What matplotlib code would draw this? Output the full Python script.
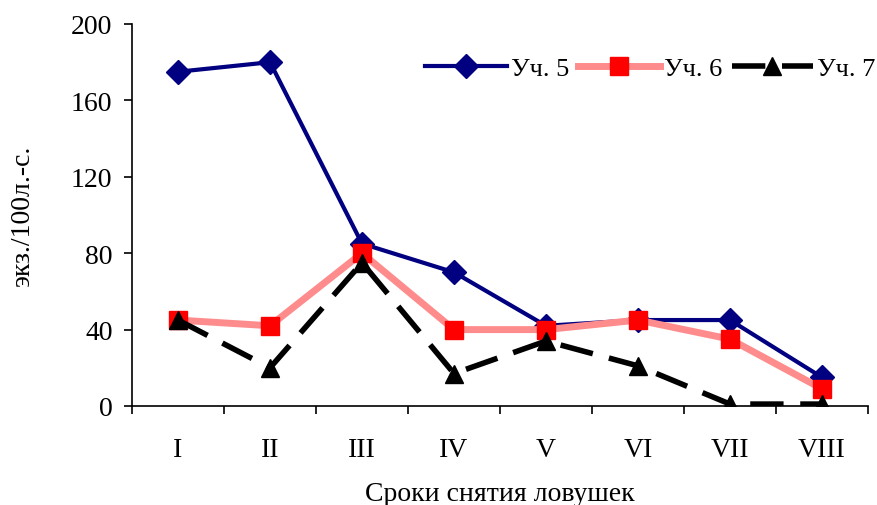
import matplotlib
matplotlib.use("Agg")
import matplotlib.pyplot as plt
import numpy as np

categories = ["I", "II", "III", "IV", "V", "VI", "VII", "VIII"]
uch5 = [175, 180, 85, 70, 42, 45, 45, 15]
uch6 = [45, 42, 80, 40, 40, 45, 35, 9]
uch7 = [45, 20, 75, 17, 34, 21, 1, 1]
yticks = [0, 40, 80, 120, 160, 200]

plt.rcParams["font.family"] = ["Liberation Serif", "DejaVu Serif"]

fig = plt.figure(figsize=(8.77, 5.06), dpi=100)
ax = fig.add_axes([132 / 877, 1 - 407 / 506, (868 - 132) / 877, (407 - 25) / 506])

x = np.arange(len(categories)) + 0.5

ax.plot(x, uch5, color="#000080", lw=3.0, marker="D", ms=12.5,
        mfc="#000080", mec="#000080", label="Уч. 5", zorder=3)
ax.plot(x, uch6, color="#FF8C8C", lw=5, marker="s", ms=12.5,
        mfc="#FF0000", mec="#FF0000", label="Уч. 6", zorder=4)
ax.plot(x, uch7, color="black", lw=4, dashes=(6, 3), marker="^", ms=13.5,
        mfc="black", mec="black", label="Уч. 7", zorder=5)

ax.set_xlim(0, len(categories))
ax.set_ylim(0, 200)
ax.set_yticks(yticks)
ax.set_xticks(np.arange(len(categories) + 1))
ax.set_xticklabels([])
ax.set_xticks(x, minor=True)
ax.set_xticklabels(categories, minor=True)

ax.tick_params(axis="both", which="major", direction="out", length=6,
               width=1.2, labelsize=20, colors="black")
ax.tick_params(axis="x", which="minor", length=0, labelsize=20, pad=22)
ax.tick_params(axis="y", pad=8)

for s in ["top", "right"]:
    ax.spines[s].set_visible(False)
for s in ["left", "bottom"]:
    ax.spines[s].set_linewidth(1.2)

ax.set_xlabel("Сроки снятия ловушек", fontsize=20, labelpad=14)
ax.set_ylabel("экз./100л.-с.", fontsize=20, labelpad=26)

ax.legend(loc="center right", bbox_to_anchor=(1.0, 1 - 69 / 506),
          bbox_transform=fig.transFigure, ncol=3, frameon=False,
          fontsize=19, handlelength=3.1, columnspacing=0.35,
          handletextpad=0.15, borderaxespad=0.0, borderpad=0.05)

fig.savefig("out.png", dpi=100)
